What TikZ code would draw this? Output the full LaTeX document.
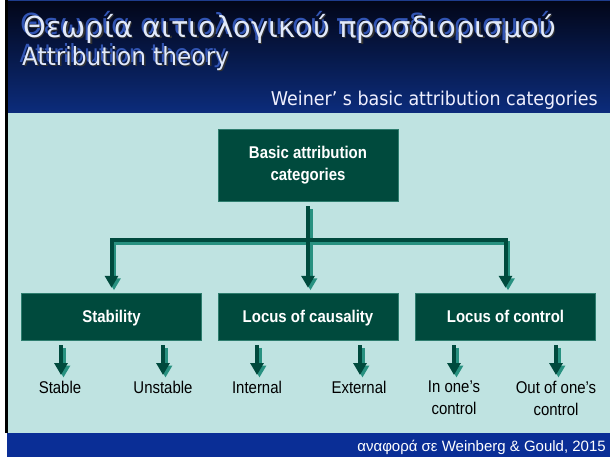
\documentclass[tikz,border=0pt]{standalone}
\usepackage{fontspec}
\setmainfont{Liberation Sans}
\newfontfamily\narrowfont[FakeStretch=0.88]{Liberation Sans}
\newfontfamily\titlefont{DejaVu Sans}
\newfontfamily\subfont[FakeStretch=0.93]{DejaVu Sans}
\newfontfamily\weinerfont[FakeStretch=0.92]{DejaVu Sans}
\usetikzlibrary{arrows.meta}
\definecolor{hdrtop}{RGB}{2,6,24}
\definecolor{hdrbot}{RGB}{12,44,124}
\definecolor{hdrline}{RGB}{30,60,140}
\definecolor{bgl}{RGB}{191,227,225}
\definecolor{ftr}{RGB}{10,46,150}
\definecolor{boxg}{RGB}{0,74,61}
\definecolor{boxedge}{RGB}{45,125,110}
\definecolor{lineg}{RGB}{0,74,61}
\definecolor{shadg}{RGB}{40,145,128}
\definecolor{titletxt}{RGB}{226,234,250}
\definecolor{titleshad}{RGB}{50,85,180}
\tikzset{
  catbox/.style={fill=boxg, draw=boxedge, line width=0.5pt, minimum width=180, minimum height=47,
    inner sep=0, text=white, align=center, font=\narrowfont\bfseries\fontsize{17}{22}\selectfont},
  onebox/.style={catbox, text height=12pt, text depth=0pt},
  lab/.style={inner sep=0, text=black, align=center, font=\narrowfont\fontsize{17}{22}\selectfont},
  conn/.style={draw=lineg, line width=4pt, line join=miter},
  connshad/.style={draw=shadg, line width=4pt, line join=miter, transform canvas={shift={(2.5pt,-2.5pt)}}},
  tipbig/.style={-{Triangle[width=13pt,length=12pt]}},
  ttl/.style={inner sep=0, anchor=base west, font=\titlefont\fontsize{29}{34}\selectfont},
  sub/.style={inner sep=0, anchor=base west, font=\subfont\fontsize{25}{30}\selectfont}
}
\begin{document}
\begin{tikzpicture}[x=1pt,y=-1pt]
\useasboundingbox (0,0) rectangle (610,457);
\fill[white] (0,0) rectangle (610,457);
% header
\shade[top color=hdrtop, bottom color=hdrbot] (5,0) rectangle (610,113);
\fill[hdrline] (5,0) rectangle (610,1.5);
% light area
\fill[bgl] (5,113) rectangle (610,433);
% footer
\fill[ftr] (7,433) rectangle (610,457);
% left black line
\fill[black] (5,0) rectangle (7.5,433);

% titles
\node[ttl, text=titleshad] at (20.5,34.5) {Θεωρία αιτιολογικού προσδιορισμού};
\node[ttl, text=black!80] at (24.5,39) {Θεωρία αιτιολογικού προσδιορισμού};
\node[ttl, text=titletxt] (title) at (23,37.5) {Θεωρία αιτιολογικού προσδιορισμού};
\node[sub, text=titleshad] at (19.5,63) {Attribution theory};
\node[sub, text=black!80] at (23.5,67) {Attribution theory};
\node[sub, text=titletxt] (subtitle) at (22,65.5) {Attribution theory};
\node[inner sep=0, anchor=base east, text=white!94!blue, font=\weinerfont\fontsize{19}{23}\selectfont] (weiner) at (598,106) {Weiner’ s basic attribution categories};

% boxes
\node[catbox, minimum height=72] (top) at (308,165) {Basic attribution\\categories};
\node[onebox] (s1) at (111.5,316.5) {Stability};
\node[onebox] (s2) at (308,316.5) {Locus of causality};
\node[onebox] (s3) at (505.5,316.5) {Locus of control};

\coordinate (bar) at (308,240);

% tip coordinates of small arrows
\coordinate (t1) at (61,375);
\coordinate (t2) at (163,375);
\coordinate (t3) at (257,375);
\coordinate (t4) at (360,375);
\coordinate (t5) at (454,375);
\coordinate (t6) at (556,375);

% labels
\node[lab, anchor=north] (l1) at (60,380.5) {Stable};
\node[lab, anchor=north] (l2) at (163,380.5) {Unstable};
\node[lab, anchor=north] (l3) at (257,380.5) {Internal};
\node[lab, anchor=north] (l4) at (359,380.5) {External};
\node[lab, anchor=north] (l5) at (454,380.5) {In one’s\\control};
\node[lab, anchor=north] (l6) at (556,380.5) {Out of one’s\\control};

% connector shadows
\draw[connshad, shorten <=5pt] (top.south) -- (bar);
\draw[connshad, tipbig, shorten >=5pt] (bar) -| (s1.north);
\draw[connshad, tipbig, shorten >=5pt] (bar) -- (s2.north);
\draw[connshad, tipbig, shorten >=5pt] (bar) -| (s3.north);
\draw[connshad, tipbig, shorten <=5pt] (s1.south -| t1) -- (t1);
\draw[connshad, tipbig, shorten <=5pt] (s1.south -| t2) -- (t2);
\draw[connshad, tipbig, shorten <=5pt] (s2.south -| t3) -- (t3);
\draw[connshad, tipbig, shorten <=5pt] (s2.south -| t4) -- (t4);
\draw[connshad, tipbig, shorten <=5pt] (s3.south -| t5) -- (t5);
\draw[connshad, tipbig, shorten <=5pt] (s3.south -| t6) -- (t6);
% connectors
\draw[conn, shorten <=5pt] (top.south) -- (bar);
\draw[conn, tipbig, shorten >=5pt] (bar) -| (s1.north);
\draw[conn, tipbig, shorten >=5pt] (bar) -- (s2.north);
\draw[conn, tipbig, shorten >=5pt] (bar) -| (s3.north);
\draw[conn, tipbig, shorten <=5pt] (s1.south -| t1) -- (t1);
\draw[conn, tipbig, shorten <=5pt] (s1.south -| t2) -- (t2);
\draw[conn, tipbig, shorten <=5pt] (s2.south -| t3) -- (t3);
\draw[conn, tipbig, shorten <=5pt] (s2.south -| t4) -- (t4);
\draw[conn, tipbig, shorten <=5pt] (s3.south -| t5) -- (t5);
\draw[conn, tipbig, shorten <=5pt] (s3.south -| t6) -- (t6);

% footer text
\node[inner sep=0, anchor=base east, text=white, font=\fontsize{15}{18}\selectfont] (foot) at (606,451) {αναφορά σε Weinberg \& Gould, 2015};
\end{tikzpicture}
\end{document}
